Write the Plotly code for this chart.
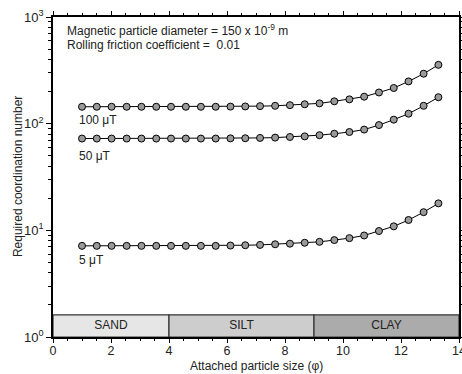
import math
import plotly.graph_objects as go

# Attached particle size (phi) for the 25 computed points
phi = [1.00, 1.51, 2.02, 2.54, 3.05, 3.56, 4.07, 4.58, 5.10, 5.61, 6.12, 6.63,
       7.14, 7.66, 8.17, 8.68, 9.19, 9.70, 10.22, 10.73, 11.24, 11.75, 12.26, 12.78, 13.29]

n_100uT = [144, 144, 144, 144, 144, 144, 144, 144, 144, 144, 144.5, 145,
           146, 147, 149, 152, 155, 162, 169, 179, 196, 216, 249, 294, 356]
n_50uT = [72.5, 72.5, 72.5, 72.5, 72.5, 72.5, 72.5, 72.5, 72.5, 72.5, 72.8, 73,
          73.5, 74, 75, 76, 78, 80.5, 83.5, 88, 97, 109, 124, 147, 177]
n_5uT = [7.15, 7.15, 7.15, 7.15, 7.15, 7.15, 7.15, 7.15, 7.15, 7.15, 7.2, 7.25,
         7.3, 7.4, 7.5, 7.65, 7.8, 8.1, 8.45, 8.95, 9.85, 10.9, 12.5, 14.8, 17.9]

series_names = ["100 μT", "50 μT", "5 μT"]
series_values = [n_100uT, n_50uT, n_5uT]
label_yshift = [-13, -17, -14]

# Grain-size classes
class_names = ["SAND", "SILT", "CLAY"]
class_start = [0, 4, 9]
class_end = [4, 9, 14]
class_colors = ["#e6e6e6", "#cdcdcd", "#ababab"]
band_bottom, band_top = 1.0, 1.61

x_ticks = [0, 2, 4, 6, 8, 10, 12, 14]
y_ticks = [1, 10, 100, 1000]
y_ticktext = ["10<sup>0</sup>", "10<sup>1</sup>", "10<sup>2</sup>", "10<sup>3</sup>"]

FONT = "Arial, Liberation Sans, sans-serif"
TXT = "#222222"

fig = go.Figure()

# class bands
for name, x0, x1, col in zip(class_names, class_start, class_end, class_colors):
    fig.add_trace(go.Scatter(
        x=[x0, x1, x1, x0, x0], y=[band_bottom, band_bottom, band_top, band_top, band_bottom],
        mode="lines", fill="toself", fillcolor=col,
        line=dict(color="#333333", width=1.2), hoverinfo="skip", showlegend=False))
    fig.add_trace(go.Scatter(
        x=[(x0 + x1) / 2], y=[(band_bottom * band_top) ** 0.5], mode="text", text=[name],
        textfont=dict(family=FONT, size=12, color=TXT),
        textposition="middle center", hoverinfo="skip", showlegend=False))

for name, vals, ys in zip(series_names, series_values, label_yshift):
    fig.add_trace(go.Scatter(
        x=phi, y=vals, mode="lines+markers", name=name,
        line=dict(color="black", width=1),
        marker=dict(size=7, color="#999999", line=dict(color="black", width=1)),
        showlegend=False))
    fig.add_annotation(x=phi[0], y=math.log10(vals[0]), xref="x", yref="y",
                       text=name, showarrow=False, xanchor="left", yanchor="middle",
                       xshift=-5, yshift=ys, font=dict(family=FONT, size=12, color=TXT))

fig.add_annotation(x=0.03, y=0.959, xref="paper", yref="paper", showarrow=False,
                   xanchor="left", yanchor="middle",
                   text="Magnetic particle diameter = 150 x 10<sup>-9</sup> m",
                   font=dict(family=FONT, size=12, color=TXT))
fig.add_annotation(x=0.03, y=0.9125, xref="paper", yref="paper", showarrow=False,
                   xanchor="left", yanchor="middle",
                   text="Rolling friction coefficient =  0.01",
                   font=dict(family=FONT, size=12, color=TXT))

# axis titles
fig.add_annotation(x=0.5, y=-0.092, xref="paper", yref="paper", showarrow=False,
                   xanchor="center", yanchor="middle",
                   text="Attached particle size (φ)",
                   font=dict(family=FONT, size=12, color=TXT))
fig.add_annotation(x=-0.086, y=0.5, xref="paper", yref="paper", showarrow=False,
                   xanchor="center", yanchor="middle", textangle=-90,
                   text="Required coordination number",
                   font=dict(family=FONT, size=12, color=TXT))

minor_y = [m * 10 ** e for e in range(0, 3) for m in range(2, 10)]

fig.update_layout(
    width=462, height=374,
    margin=dict(l=53, r=3, t=17, b=37, autoexpand=False),
    plot_bgcolor="white", paper_bgcolor="white",
    font=dict(family=FONT, size=12, color=TXT),
    xaxis=dict(range=[0, 14], tickvals=x_ticks, ticks="outside", ticklen=4,
               tickwidth=1, tickcolor="black", automargin=False,
               ticklabeloverflow="allow", ticklabelstandoff=-3,
               showline=True, linecolor="black", linewidth=1.5, mirror="allticks",
               showgrid=False, zeroline=False,
               minor=dict(dtick=0.5, ticks="outside", ticklen=2, tickcolor="black", showgrid=False),
               tickfont=dict(family=FONT, size=12.5, color=TXT)),
    yaxis=dict(type="log", range=[0, 3], tickmode="array", tickvals=y_ticks,
               ticktext=y_ticktext, ticks="outside", ticklen=5, tickwidth=1,
               tickcolor="black", automargin=False,
               showline=True, linecolor="black", linewidth=1.5, mirror="allticks",
               showgrid=False, zeroline=False,
               minor=dict(tickmode="array", tickvals=minor_y, ticks="outside", ticklen=3,
                          tickcolor="black", showgrid=False),
               tickfont=dict(family=FONT, size=13, color=TXT)),
)

fig.write_html("out.html")
